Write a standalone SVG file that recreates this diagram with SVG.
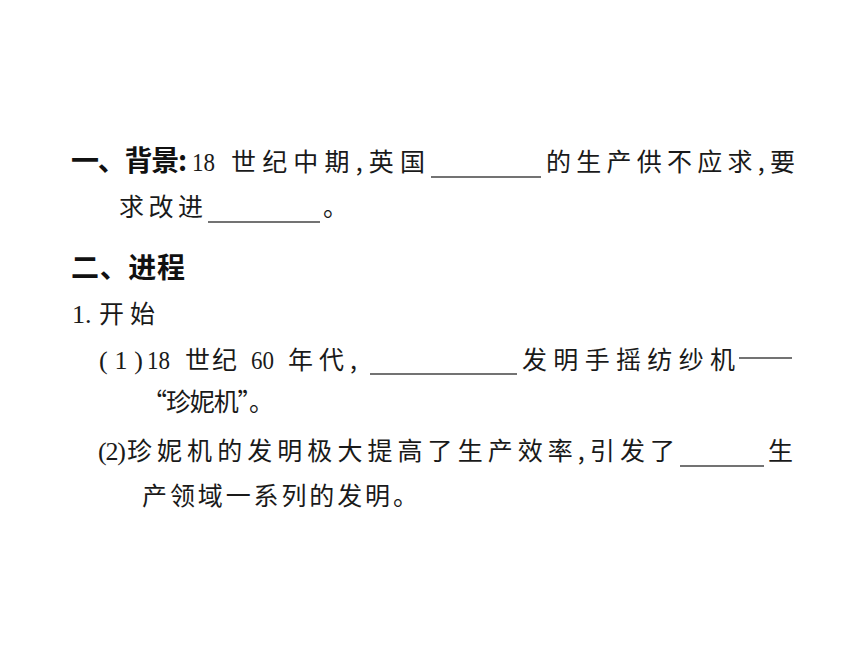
<svg xmlns="http://www.w3.org/2000/svg" width="860" height="645" viewBox="0 0 860 645">
<style>
.b{font-family:"Noto Sans CJK SC",sans-serif;font-size:25px;fill:#1a1a1a;}
.h{font-family:"Noto Sans CJK SC",sans-serif;font-size:28px;font-weight:bold;fill:#111;}
.n{font-family:"Liberation Serif",serif;font-size:26px;fill:#1a1a1a;}
.u{stroke:#444;stroke-width:1.6;}
</style>
<rect width="860" height="645" fill="#fff"/>
<g id="section1">
<text class="h" x="71" y="171" textLength="116" lengthAdjust="spacing">一、背景:</text>
<text class="n" x="192" y="171" textLength="23" lengthAdjust="spacingAndGlyphs">18</text>
<text class="b" x="231" y="171" textLength="194" lengthAdjust="spacing">世纪中期,英国</text>
<line class="u" x1="431" y1="177" x2="541" y2="177"/>
<text class="b" x="546" y="171" textLength="249" lengthAdjust="spacing">的生产供不应求,要</text>
<text class="b" x="119" y="216" textLength="84" lengthAdjust="spacing">求改进</text>
<line class="u" x1="208" y1="222" x2="320" y2="222"/>
<text class="b" x="323" y="216">。</text>
</g>
<g id="section2">
<text class="h" x="71" y="278" textLength="114" lengthAdjust="spacing">二、进程</text>
<text class="n" x="72" y="323">1.</text>
<text class="b" x="99" y="323" textLength="56" lengthAdjust="spacing">开始</text>
<text class="n" x="99" y="369" textLength="44" lengthAdjust="spacing">(1)</text>
<text class="n" x="147" y="369" textLength="23" lengthAdjust="spacingAndGlyphs">18</text>
<text class="b" x="185" y="369" textLength="52" lengthAdjust="spacing">世纪</text>
<text class="n" x="251" y="369" textLength="23" lengthAdjust="spacingAndGlyphs">60</text>
<text class="b" x="288" y="369" textLength="69" lengthAdjust="spacing">年代,</text>
<line class="u" x1="370" y1="374" x2="517" y2="374"/>
<text class="b" x="522" y="369" textLength="213" lengthAdjust="spacing">发明手摇纺纱机</text>
<line class="u" x1="739" y1="358" x2="792" y2="358"/>
<text class="b" x="142" y="411" textLength="132" lengthAdjust="spacing">“珍妮机”。</text>
<text class="n" x="98" y="460" textLength="28" lengthAdjust="spacing">(2)</text>
<text class="b" x="127" y="460" textLength="548" lengthAdjust="spacing">珍妮机的发明极大提高了生产效率,引发了</text>
<line class="u" x1="680" y1="466" x2="764" y2="466"/>
<text class="b" x="768" y="460">生</text>
<text class="b" x="142" y="505" textLength="276" lengthAdjust="spacing">产领域一系列的发明。</text>
</g>
</svg>
